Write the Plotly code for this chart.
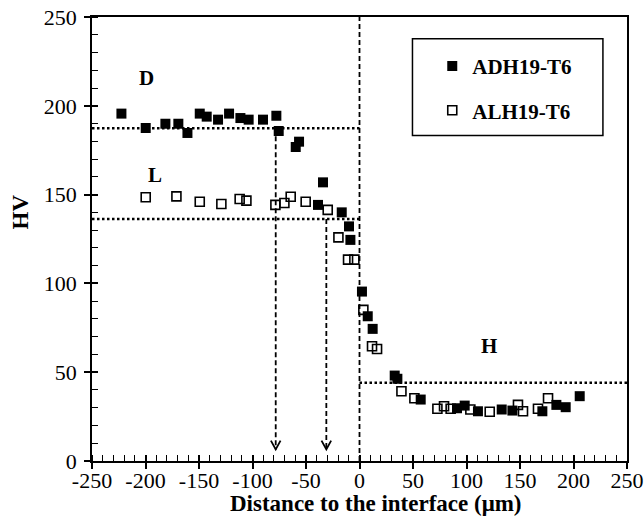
import plotly.graph_objects as go

# ---------------- data ----------------
adh_x = [-222.5, -199.8, -181.4, -169.3, -160.8, -149.3, -142.8, -132.2, -121.9, -111.3,
         -103.6, -90.2, -77.7, -75.5, -59.6, -56.5, -34.1, -38.8, -16.6, -9.8,
         -8.5, 2.3, 7.7, 12.3, 32.9, 35.4, 57.2, 91.1, 98.3, 110.7,
         132.9, 142.9, 170.9, 184.0, 192.7, 205.8]
adh_y = [195.6, 187.5, 189.9, 189.9, 184.7, 195.6, 193.9, 192.2, 195.6, 193.1,
         192.2, 192.2, 194.4, 185.8, 176.8, 179.8, 156.9, 144.2, 140.0, 132.1,
         124.5, 95.4, 81.5, 74.4, 48.1, 46.3, 34.6, 29.7, 31.2, 28.0,
         29.0, 28.4, 28.0, 31.6, 30.3, 36.5]

alh_x = [-199.8, -171.1, -149.3, -129.1, -112.0, -105.7, -78.6, -70.2, -64.3, -50.3,
         -29.7, -19.7, -10.7, -4.8, 3.6, 11.7, 16.4, 39.2, 51.3, 72.8,
         79.0, 85.2, 103.6, 121.7, 148.1, 152.8, 166.8, 176.2]
alh_y = [148.5, 149.0, 146.0, 144.7, 147.5, 146.6, 144.2, 145.3, 148.8, 146.0,
         141.4, 125.9, 113.4, 113.4, 85.1, 64.6, 63.1, 39.3, 35.3, 29.4,
         30.8, 29.4, 29.0, 27.7, 31.6, 28.0, 29.4, 35.3]

series_names = ["ADH19-T6", "ALH19-T6"]

# reference levels (HV) and positions (µm)
level_D = 187.3
level_L = 136.3
level_H = 44.0
arrow_D_x = -78.3
arrow_L_x = -31.0
arrow_tip_y = 6.5
region_labels = ["D", "L", "H"]
region_label_x = [-199.2, -191.4, 121.0]
region_label_y = [215.6, 160.8, 64.6]

x_ticks = [-250, -200, -150, -100, -50, 0, 50, 100, 150, 200, 250]
x_tick_text = ["-250", "-200", "-150", "-100", "-50", "0", "50", "100", "150", "200", "250"]
y_ticks = [0, 50, 100, 150, 200, 250]

FONT = "Liberation Serif"
TICK_SIZE = 22

fig = go.Figure()
fig.add_trace(go.Scatter(x=adh_x, y=adh_y, mode="markers", name=series_names[0],
                         legendgroup="a",
                         marker=dict(symbol="square", size=10, color="black",
                                     line=dict(width=0))))
fig.add_trace(go.Scatter(x=alh_x, y=alh_y, mode="markers", name=series_names[1],
                         legendgroup="b",
                         marker=dict(symbol="square-open", size=9, color="black",
                                     line=dict(width=1.6))))
# dummy trace for the inner half of crossing major ticks
fig.add_trace(go.Scatter(x=[None], y=[None], xaxis="x2", yaxis="y2",
                         showlegend=False, hoverinfo="skip"))

dot = dict(color="black", width=2.5, dash="2.5px,2.5px")
dsh = dict(color="black", width=1.8, dash="5px,3px")

shapes = [
    dict(type="line", x0=-250, x1=0, y0=level_D, y1=level_D, line=dot),
    dict(type="line", x0=-250, x1=0, y0=level_L, y1=level_L, line=dot),
    dict(type="line", x0=0, x1=250, y0=level_H, y1=level_H, line=dot),
    dict(type="line", x0=0, x1=0, y0=0, y1=250, line=dsh),
    dict(type="line", x0=arrow_D_x, x1=arrow_D_x, y0=level_D, y1=arrow_tip_y, line=dsh),
    dict(type="line", x0=arrow_L_x, x1=arrow_L_x, y0=level_L, y1=arrow_tip_y, line=dsh),
]
for ax in (arrow_D_x, arrow_L_x):
    shapes.append(dict(type="path",
                       path=f"M {ax-4.5},{arrow_tip_y+5} L {ax},{arrow_tip_y} L {ax+4.5},{arrow_tip_y+5}",
                       line=dict(color="black", width=1.8)))
# legend frame
shapes.append(dict(type="rect", xref="paper", yref="paper",
                   x0=0.599, x1=0.955, y0=0.733, y1=0.951,
                   line=dict(color="black", width=1.5), fillcolor="white", layer="below"))

annotations = []
for t, xx, yy in zip(region_labels, region_label_x, region_label_y):
    annotations.append(dict(x=xx, y=yy, text=f"<b>{t}</b>", showarrow=False,
                            xanchor="center", yanchor="middle",
                            font=dict(family=FONT, size=21, color="black")))
annotations.append(dict(xref="paper", yref="y", x=-0.133, y=140.4, text="<b>HV</b>",
                        textangle=-90, showarrow=False, xanchor="center", yanchor="middle",
                        font=dict(family=FONT, size=23, color="black")))
annotations.append(dict(xref="paper", yref="paper", x=0.531, y=-0.0957,
                        text="<b>Distance to the interface (μm)</b>", showarrow=False,
                        xanchor="center", yanchor="middle",
                        font=dict(family=FONT, size=23, color="black")))

axis_common = dict(showgrid=False, zeroline=False, automargin=False)

fig.update_layout(
    template="none",
    width=644, height=526,
    margin=dict(l=92.3, r=16.7, t=17.3, b=64.5, autoexpand=False),
    plot_bgcolor="white", paper_bgcolor="white",
    font=dict(family=FONT, size=TICK_SIZE, color="black"),
    showlegend=True,
    legend=dict(x=0.636, y=0.935, xanchor="left", yanchor="top",
                bgcolor="rgba(0,0,0,0)", borderwidth=0,
                font=dict(family=FONT, size=21, color="black", weight="bold"),
                tracegroupgap=14),
    shapes=shapes,
    annotations=annotations,
    xaxis=dict(range=[-250, 250], tickvals=x_ticks, ticktext=x_tick_text,
               ticks="outside", ticklen=6, ticklabelstandoff=-7,
               tickwidth=1.5, tickcolor="black", showline=True, linecolor="black",
               linewidth=1.8, mirror=True,
               minor=dict(dtick=10, ticks="inside", ticklen=6, tickwidth=1.2,
                          tickcolor="black", showgrid=False),
               tickfont=dict(family=FONT, size=TICK_SIZE), **axis_common),
    yaxis=dict(range=[0, 250], tickvals=y_ticks, ticks="outside", ticklen=6,
               ticklabelstandoff=3,
               tickwidth=1.5, tickcolor="black", showline=True, linecolor="black",
               linewidth=1.8, mirror=True,
               minor=dict(dtick=10, ticks="inside", ticklen=6, tickwidth=1.2,
                          tickcolor="black", showgrid=False),
               tickfont=dict(family=FONT, size=TICK_SIZE), **axis_common),
    xaxis2=dict(overlaying="x", anchor="y2", range=[-250, 250], tickvals=x_ticks,
                ticks="inside", ticklen=6, tickwidth=1.5, tickcolor="black",
                showticklabels=False, showline=False, **axis_common),
    yaxis2=dict(overlaying="y", anchor="x2", range=[0, 250], tickvals=y_ticks,
                ticks="inside", ticklen=6, tickwidth=1.5, tickcolor="black",
                showticklabels=False, showline=False, **axis_common),
)

fig.write_html("out.html", config={"displayModeBar": False},
               post_script="document.body.style.margin='0px';")
